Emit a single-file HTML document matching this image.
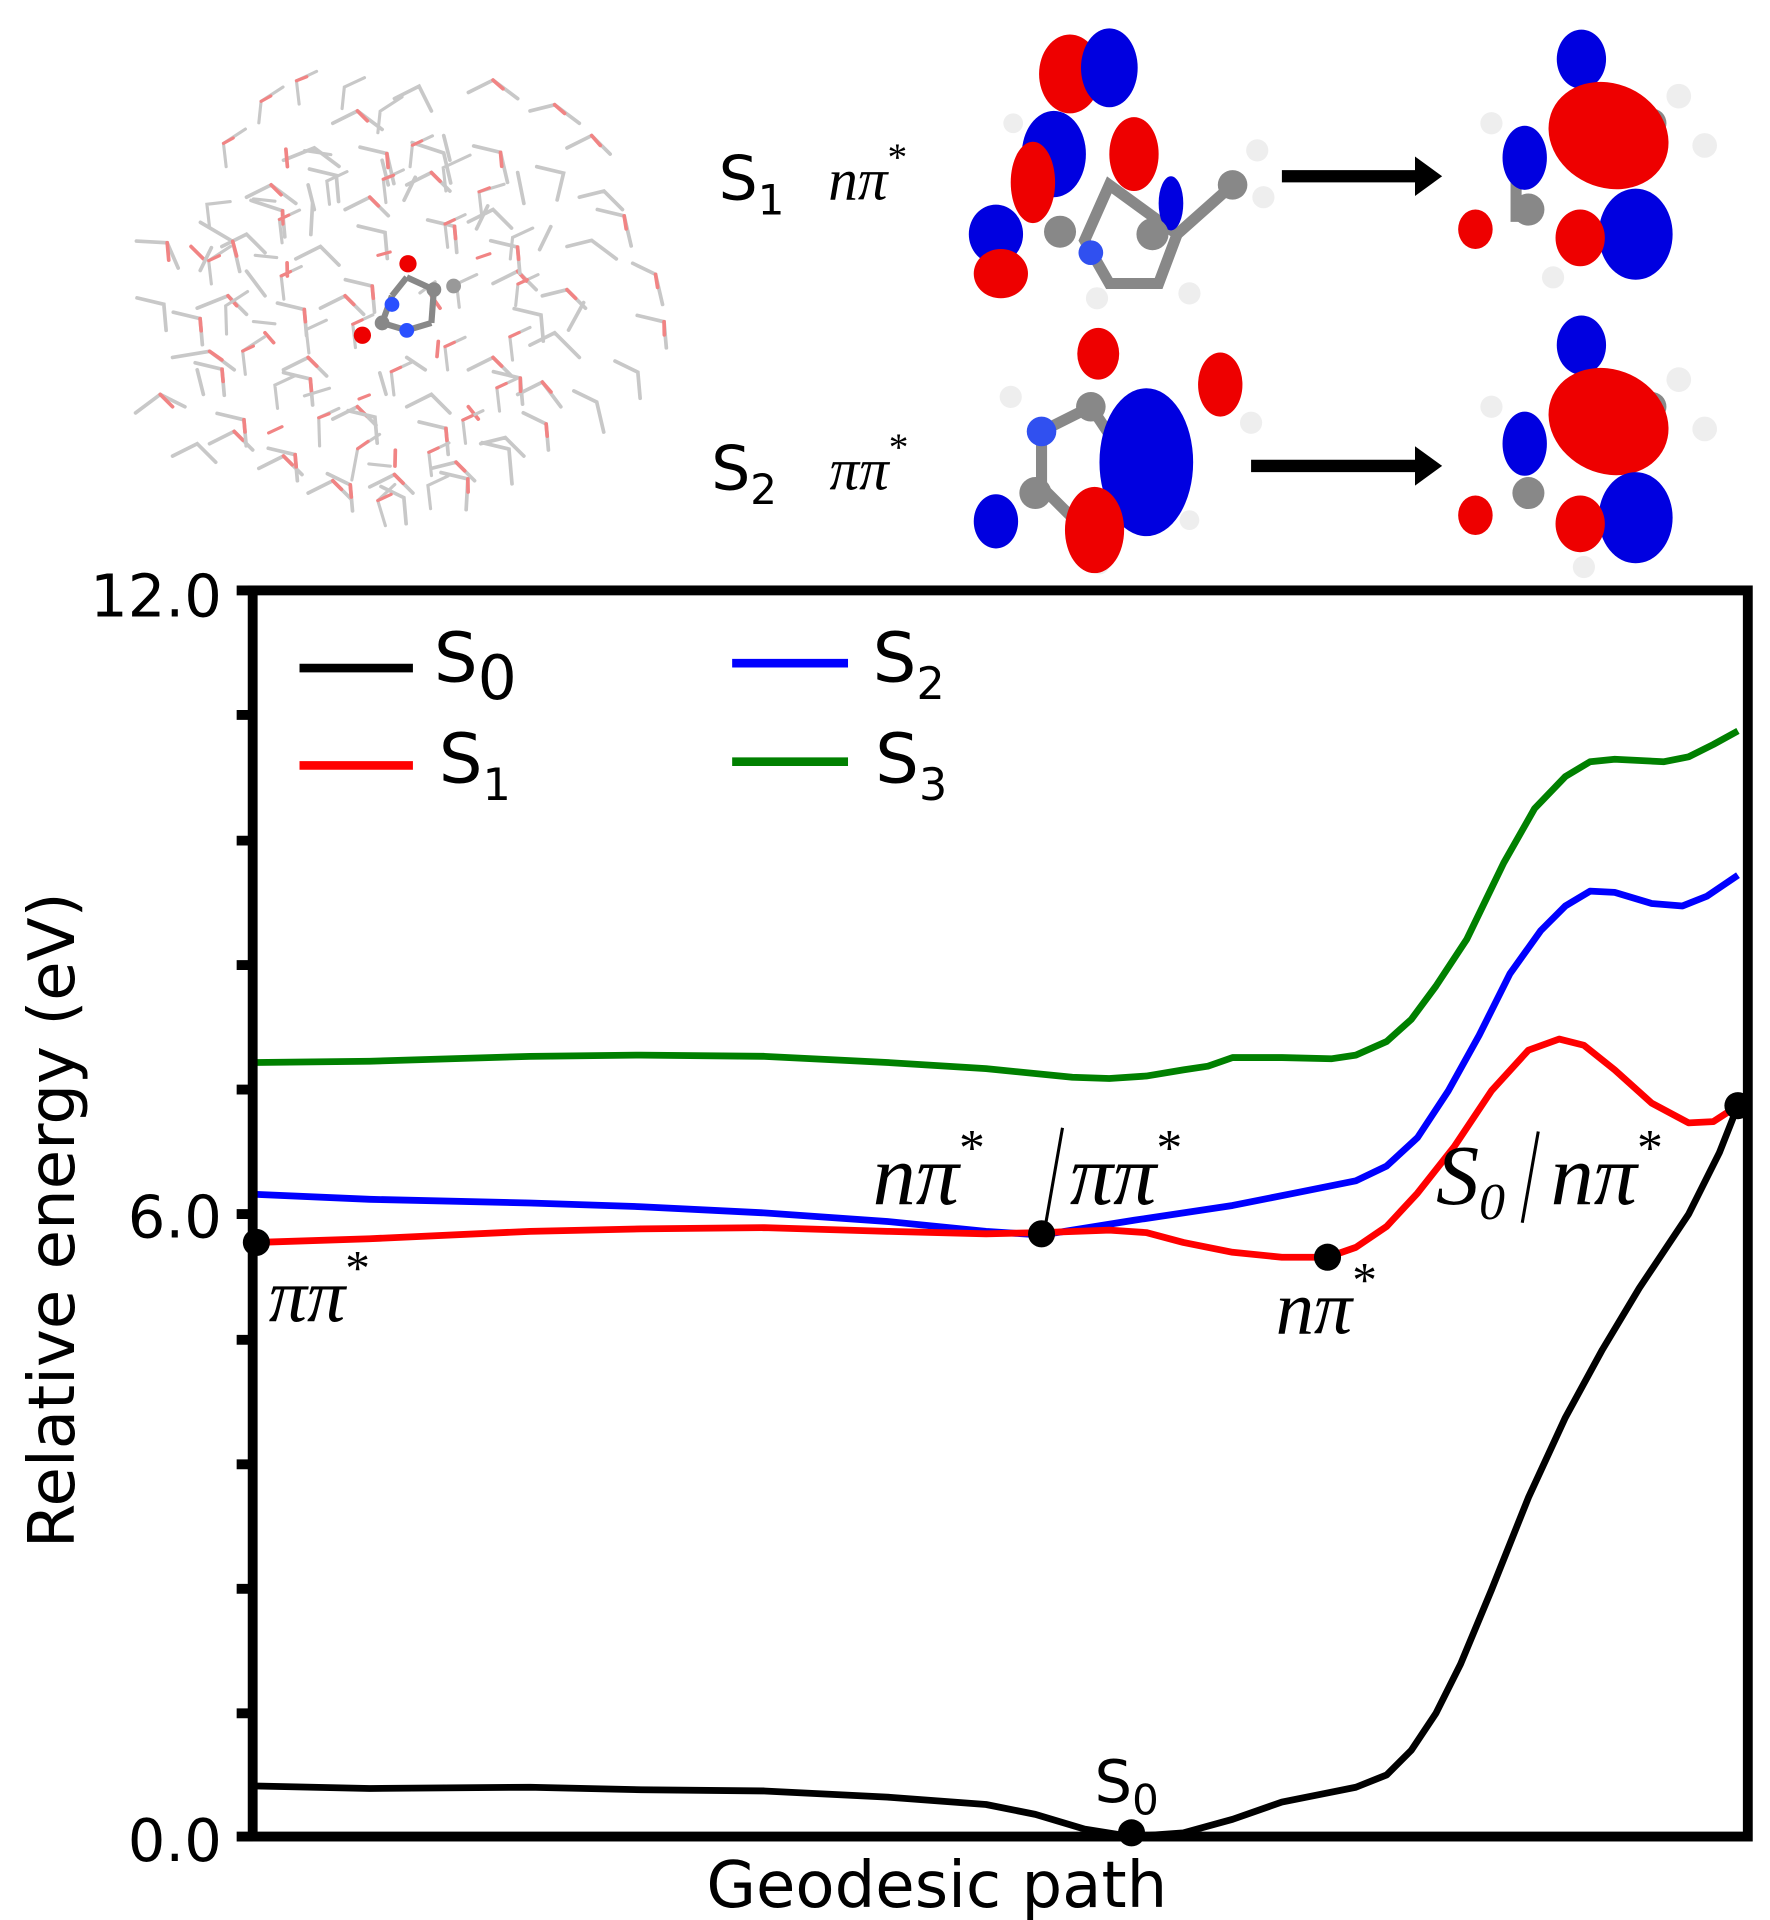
<!DOCTYPE html>
<html><head><meta charset="utf-8"><style>
html,body{margin:0;padding:0;background:#fff;}
svg{display:block;}
text{font-family:"DejaVu Sans","Liberation Sans",sans-serif;}
.m{font-family:"Liberation Serif","DejaVu Serif",serif;font-style:italic;}
</style></head><body>
<svg width="1770" height="1920" viewBox="0 0 1436 1557.7" xmlns="http://www.w3.org/2000/svg">
<rect width="1436" height="1558" fill="#fff"/>
<defs>
<g id="solv" stroke-width="3" fill="none" stroke-linecap="round">
<g stroke="#bbb">
<path d="M110 335 L130 320 L150 330 M140 290 L170 285 L190 300 M160 250 L185 240 L200 255 M180 200 L200 190 L215 205 M200 160 L220 150 L240 165 M230 130 L255 120 L275 135 M270 100 L290 90 L310 105 M320 80 L340 70 L350 90 M380 75 L400 65 L420 80 M430 90 L450 85 L470 100 M460 120 L480 110 L495 125 M470 160 L490 155 L505 170 M460 200 L480 195 L500 210 M440 240 L460 235 L475 250 M430 280 L450 270 L470 290 M420 320 L440 310 L455 330 M390 360 L410 355 L425 370 M350 380 L370 375 L385 390 M300 395 L320 385 L335 400 M250 400 L270 390 L285 405 M210 380 L230 370 L245 385 M170 360 L190 350 L205 365 M140 370 L160 360 L175 375 M230 300 L250 290 L265 305 M260 250 L280 240 L295 255 M240 210 L260 200 L275 215 M280 170 L300 160 L315 175 M330 150 L350 140 L365 155 M380 180 L400 170 L415 185 M400 230 L420 220 L435 235 M380 300 L400 290 L415 305 M330 330 L350 320 L365 335 M270 340 L290 330 L305 345 M200 220 L215 240 M310 130 L315 150 M360 110 L365 130 M420 140 L425 165 M160 300 L165 320 M330 290 L345 300 M250 150 L255 170"/>
</g>
<g stroke="#e66">
<path d="M130 320 L140 330 M170 285 L180 292 M185 240 L192 248 M220 150 L228 158 M290 90 L298 98 M400 65 L408 72 M450 85 L458 92 M480 110 L487 118 M460 235 L467 242 M440 310 L447 318 M370 375 L377 382 M270 390 L277 397 M190 350 L197 357 M250 290 L257 297 M280 240 L287 247 M350 140 L357 147 M400 290 L407 297 M290 330 L297 337 M420 220 L427 228 M300 160 L307 167 M230 370 L237 377 M320 385 L327 392 M155 200 L165 210 M215 270 L222 278 M350 240 L357 250 M380 330 L388 340"/>
</g>
</g>
</defs>
<g opacity="0.8">
<use href="#solv"/>
<use href="#solv" transform="translate(300 250) rotate(40) translate(-300 -250) translate(10 -5)"/>
<use href="#solv" transform="translate(300 250) rotate(-70) scale(0.85) translate(-300 -250)"/>
</g>
<g>
<line x1="318" y1="240" x2="330" y2="225" stroke="#888" stroke-width="5"/>
<line x1="330" y1="225" x2="352" y2="235" stroke="#888" stroke-width="5"/>
<line x1="352" y1="235" x2="350" y2="262" stroke="#888" stroke-width="5"/>
<line x1="350" y1="262" x2="330" y2="268" stroke="#888" stroke-width="5"/>
<line x1="330" y1="268" x2="310" y2="262" stroke="#888" stroke-width="5"/>
<line x1="310" y1="262" x2="318" y2="240" stroke="#888" stroke-width="5"/>
<circle cx="331" cy="214" r="7" fill="#e00"/>
<circle cx="294" cy="272" r="7" fill="#e00"/>
<circle cx="318" cy="247" r="6" fill="#2a50ff"/>
<circle cx="330" cy="268" r="6" fill="#2a50ff"/>
<circle cx="352" cy="235" r="6" fill="#888"/>
<circle cx="310" cy="262" r="6" fill="#888"/>
<circle cx="368" cy="232" r="6" fill="#999"/>
</g>

<g>
<path d="M900 150 L880 195 L900 230 L940 230 L955 190 Z" fill="none" stroke="#888" stroke-width="9"/>
<line x1="955" y1="190" x2="1000" y2="150" stroke="#888" stroke-width="9"/>
<circle cx="1000" cy="150" r="12" fill="#888"/>
<circle cx="1020" cy="122" r="9" fill="#eee"/><circle cx="1025" cy="160" r="9" fill="#eee"/>
<circle cx="965" cy="238" r="9" fill="#eee"/><circle cx="890" cy="242" r="9" fill="#eee"/>
<circle cx="822" cy="100" r="8" fill="#eee"/>
<ellipse cx="868" cy="60" rx="25" ry="32" fill="#e00"/>
<ellipse cx="900" cy="55" rx="23" ry="32" fill="#0000e0"/>
<ellipse cx="855" cy="125" rx="26" ry="35" fill="#0000e0"/>
<ellipse cx="838" cy="148" rx="18" ry="33" fill="#e00"/>
<ellipse cx="920" cy="125" rx="20" ry="30" fill="#e00"/>
<ellipse cx="950" cy="165" rx="10" ry="22" fill="#0000e0"/>
<ellipse cx="808" cy="190" rx="22" ry="24" fill="#0000e0"/>
<ellipse cx="812" cy="222" rx="22" ry="20" fill="#e00"/>
<circle cx="885" cy="205" r="10" fill="#3050f0"/>
<circle cx="860" cy="188" r="13" fill="#888"/>
<circle cx="935" cy="190" r="13" fill="#888"/>
</g>
<g>
<circle cx="1340" cy="100" r="12" fill="#888"/>
<line x1="1340" y1="100" x2="1300" y2="130" stroke="#888" stroke-width="9"/>
<circle cx="1362" cy="78" r="10" fill="#eee"/><circle cx="1383" cy="118" r="10" fill="#eee"/>
<circle cx="1260" cy="225" r="9" fill="#eee"/><circle cx="1210" cy="100" r="9" fill="#eee"/>
<line x1="1230" y1="120" x2="1230" y2="180" stroke="#888" stroke-width="9"/>
<ellipse cx="1283" cy="48" rx="20" ry="24" fill="#0000e0"/>
<ellipse cx="1237" cy="128" rx="18" ry="26" fill="#0000e0"/>
<ellipse cx="1305" cy="110" rx="50" ry="42" fill="#e00" transform="rotate(25 1305 110)"/>
<ellipse cx="1327" cy="190" rx="30" ry="37" fill="#0000e0"/>
<ellipse cx="1282" cy="193" rx="20" ry="23" fill="#e00"/>
<ellipse cx="1197" cy="186" rx="14" ry="16" fill="#e00"/>
<circle cx="1240" cy="170" r="13" fill="#888"/>
</g>
<g>
<circle cx="820" cy="322" r="9" fill="#eee"/><circle cx="1015" cy="343" r="9" fill="#eee"/>
<circle cx="965" cy="422" r="8" fill="#eee"/><circle cx="892" cy="458" r="8" fill="#eee"/>
<path d="M845 350 L885 330 L905 360 L900 410 L870 420 L845 395 Z" fill="none" stroke="#888" stroke-width="9"/>
<circle cx="845" cy="350" r="12" fill="#3050f0"/>
<circle cx="885" cy="330" r="12" fill="#888"/>
<circle cx="840" cy="400" r="13" fill="#888"/>
<ellipse cx="891" cy="287" rx="17" ry="21" fill="#e00"/>
<ellipse cx="990" cy="312" rx="18" ry="26" fill="#e00"/>
<ellipse cx="930" cy="375" rx="38" ry="60" fill="#0000e0"/>
<ellipse cx="808" cy="423" rx="18" ry="22" fill="#0000e0"/>
<ellipse cx="888" cy="430" rx="24" ry="35" fill="#e00"/>
</g>
<g>
<circle cx="1340" cy="330" r="12" fill="#888"/>
<line x1="1340" y1="330" x2="1300" y2="360" stroke="#888" stroke-width="9"/>
<circle cx="1362" cy="308" r="10" fill="#eee"/><circle cx="1383" cy="348" r="10" fill="#eee"/>
<circle cx="1210" cy="330" r="9" fill="#eee"/><circle cx="1285" cy="460" r="9" fill="#eee"/>
<ellipse cx="1283" cy="280" rx="20" ry="24" fill="#0000e0"/>
<ellipse cx="1237" cy="360" rx="18" ry="26" fill="#0000e0"/>
<ellipse cx="1305" cy="342" rx="50" ry="42" fill="#e00" transform="rotate(25 1305 342)"/>
<ellipse cx="1327" cy="420" rx="30" ry="37" fill="#0000e0"/>
<ellipse cx="1282" cy="425" rx="20" ry="23" fill="#e00"/>
<ellipse cx="1197" cy="418" rx="14" ry="16" fill="#e00"/>
<circle cx="1240" cy="400" r="13" fill="#888"/>
</g>
<line x1="1040" y1="143" x2="1150" y2="143" stroke="#000" stroke-width="10"/>
<polygon points="1148,127 1170,143 1148,159" fill="#000"/>
<line x1="1015" y1="378" x2="1150" y2="378" stroke="#000" stroke-width="10"/>
<polygon points="1148,362 1170,378 1148,394" fill="#000"/>
<text x="583" y="162" font-size="50">S<tspan font-size="34" dy="12">1</tspan></text>
<text x="672" y="162" font-size="48" class="m">nπ<tspan font-size="32" dy="-24" font-style="normal">*</tspan></text>
<text x="577" y="397" font-size="50">S<tspan font-size="34" dy="12">2</tspan></text>
<text x="673" y="397" font-size="48" class="m">ππ<tspan font-size="32" dy="-24" font-style="normal">*</tspan></text>

<g stroke="#000" stroke-width="8">
<line x1="192" y1="479" x2="205" y2="479"/><line x1="192" y1="580" x2="205" y2="580"/>
<line x1="192" y1="682" x2="205" y2="682"/><line x1="192" y1="783" x2="205" y2="783"/>
<line x1="192" y1="884" x2="205" y2="884"/><line x1="192" y1="985" x2="205" y2="985"/>
<line x1="192" y1="1087" x2="205" y2="1087"/><line x1="192" y1="1188" x2="205" y2="1188"/>
<line x1="192" y1="1289" x2="205" y2="1289"/><line x1="192" y1="1390" x2="205" y2="1390"/>
<line x1="192" y1="1490" x2="205" y2="1490"/>
</g>
<text x="180" y="500" font-size="48" text-anchor="end">12.0</text>
<text x="180" y="1004" font-size="48" text-anchor="end">6.0</text>
<text x="180" y="1510" font-size="48" text-anchor="end">0.0</text>
<text transform="translate(60 990) rotate(-90)" font-size="52" text-anchor="middle">Relative energy (eV)</text>
<text x="760" y="1547" font-size="52" text-anchor="middle">Geodesic path</text>

<g fill="none" stroke-width="5.5" stroke-linejoin="round">
<polyline stroke="#008000" points="208,862 300,861 430,857 520,856 620,857 720,862 800,867 870,874 900,875 930,873 960,868 980,865 1000,858 1040,858 1080,859 1100,856 1125,845 1145,827 1165,800 1190,762 1220,700 1245,656 1270,630 1290,618 1310,616 1350,618 1370,614 1390,604 1410,593"/>
<polyline stroke="#0000ff" points="208,969 300,973 430,976 520,979 620,984 720,991 800,999 845,1002 870,998 920,990 1000,978 1050,968 1100,958 1125,946 1150,923 1175,885 1200,840 1225,790 1250,755 1270,735 1290,723 1310,724 1340,733 1365,735 1385,727 1410,710"/>
<polyline stroke="#ff0000" points="208,1008 300,1005 430,999 520,997 620,996 720,999 800,1001 845,1000 900,998 930,1000 960,1008 1000,1016 1040,1020 1077,1020 1100,1012 1125,995 1150,968 1180,930 1210,885 1240,852 1265,843 1285,848 1310,868 1340,895 1370,911 1390,910 1410,897"/>
<polyline stroke="#000" points="208,1449 300,1451 430,1450 520,1452 620,1453 720,1458 800,1464 840,1472 880,1484 918,1490 960,1487 1000,1476 1040,1462 1075,1455 1100,1450 1125,1440 1145,1420 1165,1390 1185,1350 1210,1290 1240,1215 1270,1150 1300,1095 1330,1045 1370,985 1395,935 1410,897"/>
</g>
<rect x="205" y="479" width="1213" height="1011" fill="none" stroke="#000" stroke-width="8"/>
<g fill="#000">
<circle cx="208" cy="1008" r="11"/><circle cx="845" cy="1001" r="11"/>
<circle cx="1077" cy="1020" r="11"/><circle cx="1410" cy="897" r="11"/>
<circle cx="918" cy="1487" r="11"/>
</g>
<text x="218" y="1072" font-size="62" class="m">ππ<tspan font-size="40" dy="-30" font-style="normal">*</tspan></text>
<text x="708" y="977" font-size="70" class="m">nπ<tspan font-size="42" dy="-32" font-style="normal">*</tspan></text>
<line x1="862" y1="915" x2="848" y2="995" stroke="#000" stroke-width="2.5"/>
<text x="868" y="977" font-size="70" class="m">ππ<tspan font-size="42" dy="-32" font-style="normal">*</tspan></text>
<text x="1035" y="1082" font-size="62" class="m">nπ<tspan font-size="40" dy="-30" font-style="normal">*</tspan></text>
<text x="1165" y="977" font-size="70" class="m">S<tspan font-size="42" dy="12">0</tspan></text>
<line x1="1248" y1="918" x2="1235" y2="992" stroke="#000" stroke-width="2.5"/>
<text x="1258" y="977" font-size="70" class="m">nπ<tspan font-size="42" dy="-32" font-style="normal">*</tspan></text>
<text x="888" y="1462" font-size="48">S<tspan font-size="34" dy="10">0</tspan></text>

<g stroke-width="7">
<line x1="243" y1="542" x2="335" y2="542" stroke="#000"/>
<line x1="243" y1="621" x2="335" y2="621" stroke="#ff0000"/>
<line x1="594" y1="538" x2="688" y2="538" stroke="#0000ff"/>
<line x1="594" y1="618" x2="688" y2="618" stroke="#008000"/>
</g>
<text x="352" y="553" font-size="56">S<tspan font-size="50" dy="14">0</tspan></text>
<text x="356" y="635" font-size="56">S<tspan font-size="36" dy="14">1</tspan></text>
<text x="708" y="553" font-size="56">S<tspan font-size="36" dy="14">2</tspan></text>
<text x="710" y="635" font-size="56">S<tspan font-size="36" dy="14">3</tspan></text>
</svg>
</body></html>
